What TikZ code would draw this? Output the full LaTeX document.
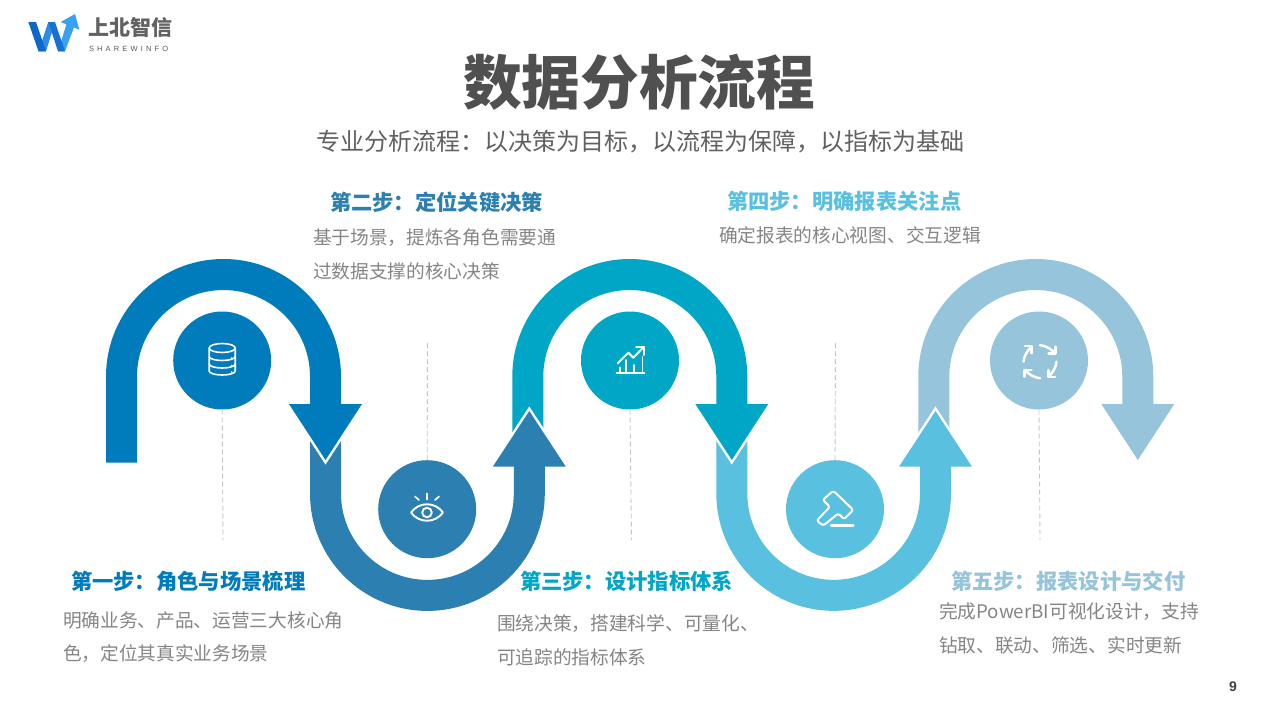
\documentclass[tikz,border=0pt]{standalone}
\usepackage{fontspec}
\newfontfamily\cjk{Noto Sans CJK SC}
\newfontfamily\lat{Liberation Sans}
\newcommand{\fwcolon}{\symbol{"FF1A}}
\newcommand{\fwcomma}{\symbol{"FF0C}}
\definecolor{cA}{HTML}{007BBB}
\definecolor{cB}{HTML}{2C80B1}
\definecolor{cC}{HTML}{00A6C6}
\definecolor{cD}{HTML}{5AC0E0}
\definecolor{cE}{HTML}{96C4DA}
\definecolor{descgray}{HTML}{858585}
\definecolor{titlegray}{HTML}{505050}
\definecolor{brandgray}{HTML}{626262}
\definecolor{logoA}{HTML}{0E68C8}
\definecolor{logoB}{HTML}{2B8BE6}
\definecolor{logoC}{HTML}{1273D4}
\definecolor{logoD}{HTML}{3AA0F0}
\tikzset{
  ribbon/.style={line width=31pt,draw=#1,line cap=butt},
  headfill/.style={fill=#1,draw=none},
  headedge/.style={draw=white,line width=5pt,miter limit=10,line join=miter},
  disc/.style={circle,fill=#1,draw=none,minimum size=98pt,inner sep=0pt},
  guide/.style={draw=black!22,line width=0.9pt,dash pattern=on 5pt off 3pt},
  icon/.style={draw=white,line width=1.6pt,line cap=round,line join=round},
  txt/.style={anchor=base west,inner sep=0pt,outer sep=0pt,font=\cjk},
  heading/.style={txt,font=\cjk\bfseries\fontsize{21.3}{24}\selectfont,text=#1},
  desc/.style={txt,font=\cjk\fontsize{18.7}{22}\selectfont,text=descgray}
}
\newcommand{\downhead}[1]{(#1-36.5,404) -- (#1+36.5,404) -- (#1,460) -- cycle}
\newcommand{\uphead}[1]{(#1-36.5,466.7) -- (#1+36.5,466.7) -- (#1,411) -- cycle}
\begin{document}
\begin{tikzpicture}[x=1pt,y=-1pt]
\useasboundingbox (0,0) rectangle (1280,720);
\fill[white] (0,0) rectangle (1280,720);

% ribbon 5
\draw[ribbon=cE] (933.8,445) -- (933.8,376.5) arc (180:360:102) -- (1137.8,410);
\fill[headfill=cE] \downhead{1137.8};
% ribbon 4
\draw[headedge] \uphead{935.5};
\draw[ribbon=cD] (731.8,440) -- (731.8,493.5) arc (180:0:101.85) -- (935.5,460);
\fill[headfill=cD] \uphead{935.5};
% ribbon 3
\draw[headedge] \downhead{731.8};
\draw[ribbon=cC] (527.8,445) -- (527.8,376.5) arc (180:360:102) -- (731.8,410);
\fill[headfill=cC] \downhead{731.8};
% ribbon 2
\draw[headedge] \uphead{529.3};
\draw[ribbon=cB] (325.5,440) -- (325.5,493.5) arc (180:0:101.9) -- (529.3,460);
\fill[headfill=cB] \uphead{529.3};
% ribbon 1
\draw[headedge] \downhead{325.5};
\draw[ribbon=cA] (121.5,462.7) -- (121.5,376.5) arc (180:360:102) -- (325.5,410);
\fill[headfill=cA] \downhead{325.5};

% discs
\node[disc=cA] (d1) at (222.2,360.5) {};
\node[disc=cB] (d2) at (427.2,509.2) {};
\node[disc=cC] (d3) at (630,360.5) {};
\node[disc=cD] (d4) at (835,509.2) {};
\node[disc=cE] (d5) at (1039,360.5) {};

% guides
\coordinate (g1) at (223,540);
\coordinate (g2) at (427.5,343);
\coordinate (g3) at (631.5,540);
\coordinate (g4) at (835.5,343);
\coordinate (g5) at (1040,540);
\draw[guide] (d1.south) -- (g1);
\draw[guide] (d2.north) -- (g2);
\draw[guide] (d3.south) -- (g3);
\draw[guide] (d4.north) -- (g4);
\draw[guide] (d5.south) -- (g5);

% database icon
\begin{scope}[shift={(222.2,361)},icon]
  \draw (0,-13) ellipse [x radius=13,y radius=4.5];
  \draw (-13,-13) -- (-13,10) arc (180:0:13 and 4) -- (13,-13);
  \draw (-13,-4.5) arc (180:0:13 and 4);
  \draw (-13,3) arc (180:0:13 and 4);
  \fill[white,draw=none] (9.5,-3) circle (0.9) (9.5,4.5) circle (0.9) (9.5,11) circle (0.9);
\end{scope}

% eye icon
\begin{scope}[shift={(427,512.5)},icon]
  \draw[line width=1.9pt] (-16,0) .. controls (-8,-11) and (8,-11) .. (16,0) .. controls (8,11) and (-8,11) .. (-16,0) -- cycle;
  \draw[line width=1.9pt] (0,0) circle (4.8);
  \draw (0,-19) -- (0,-13);
  \draw (-12,-16) -- (-8,-12.5);
  \draw (12,-16) -- (8,-12.5);
\end{scope}

% chart icon
\begin{scope}[shift={(630,360)},icon]
  \draw[line width=2pt] (-13.3,13.3) -- (14.3,13.3);
  \draw[line width=2pt] (-12.3,3.3) -- (-1.7,-7.3) -- (3.3,-2.3) -- (14,-13.3);
  \draw[line width=2pt] (6,-13.3) -- (14,-13.3) -- (14,-5);
  \draw (-10,7.3) -- (-10,13.3);
  \draw (-4.3,0) -- (-4.3,13.3);
  \draw (4,5) -- (4,13.3);
  \draw (12.3,-3) -- (12.3,13.3);
\end{scope}

% gavel icon
\begin{scope}[shift={(835,509)},icon,line width=2pt]
  \draw[rounded corners=2.5pt] (-12.3,-9) -- (-1.7,-18.3) -- (18.3,1) -- (9,10.3) -- (3.3,4.3) -- (-11.7,16.7) -- (-18.3,11.7) -- (-5,-2.3) -- cycle;
  \draw[line width=2.4pt] (-4,16.3) -- (18.3,16.3);
\end{scope}

% refresh icon
\begin{scope}[shift={(1040,361.7)}]
  \foreach \r in {0,90,180,270}{
    \begin{scope}[rotate=\r,icon,line width=2.5pt]
      \draw (0,-16.5) .. controls (6,-15.8) and (11,-13) .. (15,-8.3);
      \draw (8.5,-8.3) -- (15.5,-8.3) -- (15.5,-15);
    \end{scope}
  }
\end{scope}

% logo
\fill[logoB] (38.5,51.3) -- (46,51.3) -- (55,22) -- (48.3,22) -- cycle;
\fill[logoA] (28.3,22) -- (36,22) -- (46,51.3) -- (38.5,51.3) -- cycle;
\fill[logoD] (58,51.3) -- (65,51.3) -- (74.5,26) -- (67,22.5) -- cycle;
\fill[logoC] (48.3,22) -- (55,22) -- (65,51.3) -- (58,51.3) -- cycle;
\fill[logoD] (60.7,22) -- (75,14) -- (79.3,29.7) -- cycle;
\node[txt,text=brandgray,font=\cjk\bfseries\fontsize{21}{24}\selectfont] (brand) at (88,35) {上北智信};
\node[txt,text=black!65,font=\lat\fontsize{7.5}{8}\addfontfeature{LetterSpace=42}\selectfont] (brandlat) at (89,51) {SHAREWINFO};

% title
\node[txt,text=titlegray,font=\cjk\bfseries\fontsize{58.7}{60}\selectfont] (title) at (463,104) {数据分析流程};
\node[txt,text=black!62,font=\cjk\fontsize{24}{26}\selectfont] (subtitle) at (316,150) {专业分析流程\fwcolon 以决策为目标\fwcomma 以流程为保障\fwcomma 以指标为基础};

% steps
\node[heading=cB] (h2) at (330,210) {第二步\fwcolon 定位关键决策};
\node[desc] (t2a) at (313,244) {基于场景\fwcomma 提炼各角色需要通};
\node[desc] (t2b) at (313,278) {过数据支撑的核心决策};
\node[heading=cD] (h4) at (727,209) {第四步\fwcolon 明确报表关注点};
\node[desc] (t4a) at (719,242) {确定报表的核心视图、交互逻辑};
\node[heading=cA] (h1) at (71,589) {第一步\fwcolon 角色与场景梳理};
\node[desc] (t1a) at (63,627) {明确业务、产品、运营三大核心角};
\node[desc] (t1b) at (63,660) {色\fwcomma 定位其真实业务场景};
\node[heading=cC] (h3) at (520,589) {第三步\fwcolon 设计指标体系};
\node[desc] (t3a) at (497,630) {围绕决策\fwcomma 搭建科学、可量化、};
\node[desc] (t3b) at (497,664) {可追踪的指标体系};
\node[heading=cE] (h5) at (951,589) {第五步\fwcolon 报表设计与交付};
\node[desc] (t5a) at (939,618) {完成PowerBI可视化设计\fwcomma 支持};
\node[desc] (t5b) at (939,652) {钻取、联动、筛选、实时更新};

\node[txt,text=black!75,font=\lat\bfseries\fontsize{14}{16}\selectfont] (page) at (1229,691) {9};
\end{tikzpicture}
\end{document}
